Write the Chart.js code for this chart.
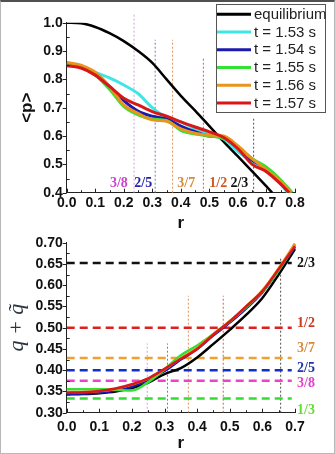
<!DOCTYPE html>
<html><head><meta charset="utf-8">
<script src="https://cdn.jsdelivr.net/npm/chart.js@4.4.1/dist/chart.umd.min.js"></script>
<style>
html,body{margin:0;padding:0;background:#fff;}
#wrap{position:relative;width:335px;height:454px;overflow:hidden;background:#fff;}
#wrap canvas{position:absolute;left:0;top:0;width:335px;height:454px;}
#frame{position:absolute;left:0;top:0;width:335px;height:454px;box-sizing:border-box;border:1px solid #b8b8b8;border-top:2px solid #505050;pointer-events:none;}
</style></head>
<body>
<div id="wrap">
<canvas id="cTop" width="335" height="454"></canvas>
<canvas id="cBot" width="335" height="454"></canvas>
<div id="frame"></div>
</div>
<script>
// ---------------- DATA (top panel) ----------------
const topXTicks = [0,0.1,0.2,0.3,0.4,0.5,0.6,0.7,0.8];
const topYTicks = [0.4,0.5,0.6,0.7,0.8,0.9,1.0];
const seriesNames = ['equilibrium','t = 1.53 s','t = 1.54 s','t = 1.55 s','t = 1.56 s','t = 1.57 s'];

const eqR = [0,0.05,0.1,0.15,0.2,0.25,0.3,0.35,0.4,0.45,0.5,0.55,0.6,0.65,0.7,0.72];
const eqP = [1.0,0.998,0.985,0.963,0.935,0.9,0.858,0.8,0.742,0.69,0.635,0.58,0.528,0.475,0.422,0.40];

const topR = [0,0.05,0.1,0.15,0.2,0.25,0.3,0.35,0.4,0.45,0.5,0.55,0.6,0.65,0.7,0.75];
const p153 = [0.855,0.845,0.825,0.805,0.78,0.75,0.70,0.665,0.65,0.625,0.605,0.59,0.545,0.51,0.48,0.43];
const p154 = [0.855,0.845,0.82,0.775,0.725,0.688,0.67,0.66,0.635,0.615,0.6,0.595,0.56,0.515,0.485,0.435];
const p155 = [0.85,0.845,0.815,0.765,0.705,0.675,0.66,0.655,0.62,0.607,0.6,0.592,0.56,0.52,0.49,0.445];
const p156 = [0.86,0.85,0.825,0.775,0.71,0.68,0.657,0.652,0.625,0.61,0.603,0.6,0.565,0.52,0.48,0.44];
const p157 = [0.848,0.84,0.815,0.775,0.733,0.71,0.686,0.67,0.65,0.632,0.615,0.595,0.555,0.50,0.474,0.43];
const topEndR = [0.775,0.78,0.79,0.785,0.78];
const topEndP = [0.40,0.40,0.40,0.40,0.40];

const topVR   = [0.236,0.31,0.371,0.479,0.655];
const topVMax = [1.03,0.94,0.94,0.88,0.662];
const topFracLabels = ['3/8','2/5','3/7','1/2','2/3'];
const topFracR = [0.183,0.268,0.419,0.531,0.605];
const topFracP = 0.434;

// ---------------- DATA (bottom panel) ----------------
const botXTicks = [0,0.1,0.2,0.3,0.4,0.5,0.6,0.7];
const botYTicks = [0.30,0.35,0.40,0.45,0.50,0.55,0.60,0.65,0.70];
const botR = [0,0.05,0.1,0.15,0.2,0.25,0.3,0.35,0.4,0.45,0.5,0.55,0.6,0.65,0.7];
const qEq  = [0.343,0.344,0.346,0.350,0.358,0.371,0.391,0.405,0.43,0.462,0.495,0.53,0.57,0.625,0.685];
const q154 = [0.344,0.345,0.347,0.352,0.361,0.377,0.398,0.425,0.45,0.482,0.512,0.545,0.583,0.635,0.69];
const q155 = [0.355,0.355,0.355,0.354,0.352,0.372,0.402,0.435,0.458,0.485,0.515,0.548,0.585,0.635,0.695];
const q156 = [0.349,0.349,0.351,0.356,0.366,0.38,0.402,0.428,0.452,0.485,0.515,0.55,0.588,0.64,0.698];
const q157 = [0.347,0.348,0.351,0.357,0.367,0.381,0.403,0.427,0.45,0.484,0.515,0.55,0.586,0.638,0.692];

const fracNames  = ['2/3','1/2','3/7','2/5','3/8','1/3'];
const fracLevels = [0.652,0.5,0.4286,0.4,0.375,0.3333];
const fracLineR  = [0,0.69];
const fracLabelQ = [0.652,0.510,0.451,0.404,0.369,0.306];

const botVR   = [0.247,0.309,0.373,0.48,0.656];
const botVMax = [0.463,0.463,0.575,0.575,0.667];

// ---------------- STYLE ----------------
const SANS = '"Liberation Sans", Arial, sans-serif';
const SERIF = '"Liberation Serif", "Times New Roman", serif';
const lineColors = ['#000000','#3ee6e6','#1a1aae','#33e033','#e8951e','#d81818'];
const vColors = ['#d79be0','#7a7ab4','#e3915a','#d0605a','#505050'];
const topFracColors = ['#cc44cc','#2424a8','#d98a3c','#cf5a22','#111111'];
const fracColors = ['#111111','#dd2020','#f0a030','#1030cc','#f040c8','#33dd33'];
const fracTextColors = ['#111111','#cc3a22','#d98a3c','#2233aa','#dd44cc','#66dd33'];

Chart.defaults.font.family = SANS;
Chart.defaults.color = '#111';
const tickFont = {family:SANS, size:14, weight:'bold'};

function xy(rs, vs){ return rs.map((r,i)=>({x:r, y:vs[i]})); }

function makeScales(c){
  return {
    x:{type:'linear', min:c.xmin, max:c.xmax,
      afterBuildTicks:s=>{ s.ticks = c.xTicks.map(v=>({value:v})); },
      afterFit:s=>{ s.height = c.xAxisH; },
      grid:{display:false, drawTicks:false},
      border:{display:true, color:'#222', width:1},
      ticks:{font:tickFont, color:'#111', padding:c.xPad, maxRotation:0, autoSkip:false,
             callback:v=>Number(v).toFixed(1)},
      title:{display:true, text:'r', color:'#111', font:{family:SANS,size:17,weight:'bold'},
             padding:{top:0,bottom:c.xTitlePad}}
    },
    y:{type:'linear', min:c.ymin, max:c.ymax,
      afterBuildTicks:s=>{ s.ticks = c.yTicks.map(v=>({value:v})); },
      afterFit:s=>{ s.width = 66.7; },
      grid:{display:false, drawTicks:false},
      border:{display:true, color:'#222', width:1},
      ticks:{font:tickFont, color:'#111', padding:4, autoSkip:false,
             callback:v=>Number(v).toFixed(c.yDigits)},
      title:{display:true, text:c.yTitle, color:c.yTitleColor, font:c.yTitleFont,
             padding:{top:c.yTitlePad,bottom:0}}
    }
  };
}

const tickMarks = {
  id:'tickMarks',
  afterDraw(chart){
    const {ctx} = chart; const x = chart.scales.x, y = chart.scales.y;
    const xt = x.ticks.map(t=>t.value), yt = y.ticks.map(t=>t.value);
    ctx.save(); ctx.strokeStyle='#222'; ctx.lineWidth=1; ctx.beginPath();
    xt.forEach((v,i)=>{
      const px = Math.round(x.getPixelForValue(v))+0.5;
      ctx.moveTo(px, x.top); ctx.lineTo(px, x.top-4);
      if(i<xt.length-1){ const m = Math.round(x.getPixelForValue((v+xt[i+1])/2))+0.5;
        ctx.moveTo(m, x.top); ctx.lineTo(m, x.top-2.5); }
    });
    yt.forEach((v,i)=>{
      const py = Math.round(y.getPixelForValue(v))+0.5;
      ctx.moveTo(y.right-4, py); ctx.lineTo(y.right, py);
      if(i<yt.length-1){ const m = Math.round(y.getPixelForValue((v+yt[i+1])/2))+0.5;
        ctx.moveTo(y.right, m); ctx.lineTo(y.right+3, m); }
    });
    ctx.stroke(); ctx.restore();
  }
};

// ---------------- TOP CHART ----------------
const topDatasets = [];
topVR.forEach((r,i)=>topDatasets.push({data:xy([r,r],[0.4,topVMax[i]]), borderColor:vColors[i],
  borderWidth:1, borderDash:[2,2], pointRadius:0, clip:false, order:20}));
topDatasets.push({label:seriesNames[0], data:xy(eqR,eqP), borderColor:lineColors[0], borderWidth:2.5,
  pointRadius:0, cubicInterpolationMode:'monotone', order:6});
[p153,p154,p155,p156,p157].forEach((vals,k)=>{
  topDatasets.push({label:seriesNames[k+1], data:xy(topR.concat([topEndR[k]]), vals.concat([topEndP[k]])),
    borderColor:lineColors[k+1], borderWidth:3, pointRadius:0, cubicInterpolationMode:'monotone', order:5-k});
});

const topFrac = {
  id:'topFrac',
  afterDatasetsDraw(chart){
    const {ctx} = chart; const x=chart.scales.x, y=chart.scales.y;
    ctx.save(); ctx.font='bold 14px '+SERIF; ctx.textAlign='center'; ctx.textBaseline='middle';
    topFracLabels.forEach((t,i)=>{ ctx.fillStyle=topFracColors[i];
      ctx.fillText(t, x.getPixelForValue(topFracR[i]), y.getPixelForValue(topFracP)); });
    ctx.restore();
  }
};

const legendBox = {
  id:'legendBox',
  afterDraw(chart){
    const {ctx} = chart;
    const x0=216, y0=4, w=109, h=108;
    ctx.save();
    ctx.fillStyle='#fff'; ctx.fillRect(x0,y0,w,h);
    ctx.strokeStyle='#555'; ctx.lineWidth=1; ctx.strokeRect(x0+0.5,y0+0.5,w,h);
    ctx.font='15px '+SANS; ctx.textBaseline='middle'; ctx.textAlign='left';
    seriesNames.forEach((n,i)=>{
      const yy = 14.3 + i*17.75;
      ctx.strokeStyle=lineColors[i]; ctx.lineWidth=3;
      ctx.beginPath(); ctx.moveTo(217,yy); ctx.lineTo(251,yy); ctx.stroke();
      ctx.fillStyle='#222'; ctx.fillText(n, 254, yy+0.5);
    });
    ctx.restore();
  }
};

new Chart(document.getElementById('cTop'), {
  type:'line',
  data:{datasets:topDatasets},
  options:{responsive:false, animation:false, devicePixelRatio:1,
    layout:{padding:{left:0,right:40,top:22.7,bottom:214}},
    plugins:{legend:{display:false}, tooltip:{enabled:false}},
    scales:makeScales({xmin:0,xmax:0.8,ymin:0.4,ymax:1.0,xTicks:topXTicks,yTicks:topYTicks,
      xAxisH:47.3,xPad:2,xTitlePad:6.8,yDigits:1,yTitle:'<p>',yTitleColor:'#111',
      yTitleFont:{family:SANS,size:17,weight:'bold'},yTitlePad:16.8})
  },
  plugins:[tickMarks, topFrac, legendBox]
});

// ---------------- BOTTOM CHART ----------------
const botDatasets = [];
botVR.forEach((r,i)=>botDatasets.push({data:xy([r,r],[0.30,botVMax[i]]), borderColor:vColors[i],
  borderWidth:1, borderDash:[2,2], pointRadius:0, order:20}));
fracLevels.forEach((q,i)=>botDatasets.push({data:xy(fracLineR,[q,q]), borderColor:fracColors[i],
  borderWidth:2.5, borderDash:[8,5], pointRadius:0, order:15}));
const botSeries = [qEq,q154,q155,q156,q157];
const botColorIdx = [0,2,3,4,5];
botSeries.forEach((vals,k)=>botDatasets.push({data:xy(botR,vals), borderColor:lineColors[botColorIdx[k]],
  borderWidth:2.5, pointRadius:0, cubicInterpolationMode:'monotone', order:6-k, clip:false}));

const rightFrac = {
  id:'rightFrac',
  afterDatasetsDraw(chart){
    const {ctx} = chart; const y=chart.scales.y; const a=chart.chartArea;
    ctx.save(); ctx.font='bold 14px '+SERIF; ctx.textAlign='left'; ctx.textBaseline='middle';
    fracNames.forEach((t,i)=>{ ctx.fillStyle=fracTextColors[i];
      ctx.fillText(t, a.right+2, y.getPixelForValue(fracLabelQ[i])); });
    ctx.restore();
  }
};

new Chart(document.getElementById('cBot'), {
  type:'line',
  data:{datasets:botDatasets},
  options:{responsive:false, animation:false, devicePixelRatio:1,
    layout:{padding:{left:0,right:40,top:242.7,bottom:0}},
    plugins:{legend:{display:false}, tooltip:{enabled:false}},
    scales:makeScales({xmin:0,xmax:0.7,ymin:0.30,ymax:0.70,xTicks:botXTicks,yTicks:botYTicks,
      xAxisH:41.3,xPad:5.6,xTitlePad:0.8,yDigits:2,yTitle:'q + q\u0303',yTitleColor:'#2b3440',
      yTitleFont:{family:SERIF,size:22,style:'italic'},yTitlePad:3.8})
  },
  plugins:[tickMarks, rightFrac]
});
</script>
</body></html>
